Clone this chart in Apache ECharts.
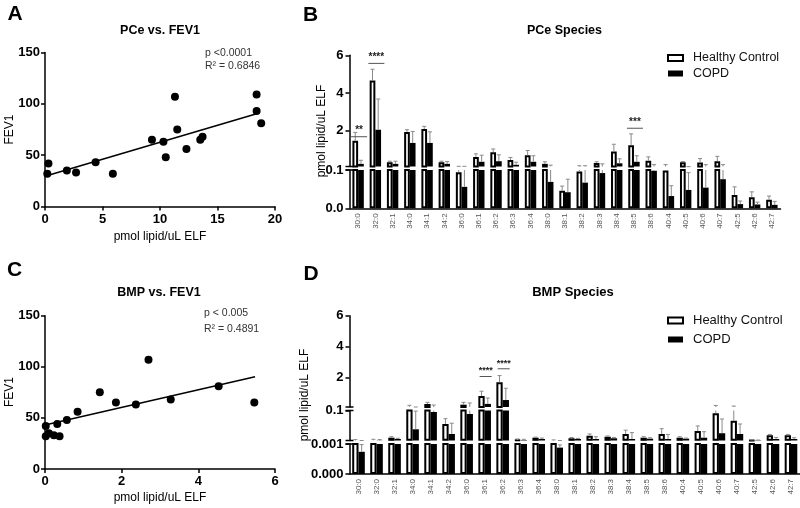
<!DOCTYPE html>
<html><head><meta charset="utf-8">
<script src="https://cdn.jsdelivr.net/npm/echarts@6/dist/echarts.min.js"></script>
<style>html,body{margin:0;padding:0;background:#fff}#c{width:800px;height:508px}</style>
</head><body><div id="c"></div>
<script>
// ---------- data ----------
const pceX = [0.3, 0.2, 1.9, 2.7, 4.4, 5.9, 9.3, 10.3, 10.5, 11.3, 11.5, 12.3, 13.5, 13.7, 18.4, 18.4, 18.8];
const pceY = [42, 32, 35, 33, 43, 32, 65, 63, 48, 107, 75, 56, 65, 68, 109, 93, 81];
const pceFit = [[0, 29.5], [18.4, 90.3]];

const bmpX = [0.02, 0.02, 0.1, 0.23, 0.38, 0.32, 0.57, 0.85, 1.43, 1.85, 2.37, 2.7, 3.28, 4.53, 5.46];
const bmpY = [42, 32, 35, 33, 32, 44, 48, 56, 75, 65, 63, 107, 68, 81, 65];
const bmpFit = [[0, 43], [5.48, 90.3]];

const species = ['30:0','32:0','32:1','34:0','34:1','34:2','36:0','36:1','36:2','36:3','36:4',
  '38:0','38:1','38:2','38:3','38:4','38:5','38:6','40:4','40:5','40:6','40:7','42:5','42:6','42:7'];

// PCe species: mean and top of error bar
const pceHC      = [1.47, 4.66, 0.33, 1.93, 2.09, 0.33, 0.094, 0.61, 0.86, 0.45, 0.70, 0.24, 0.046, 0.096, 0.29, 0.89, 1.23, 0.40, 0.099, 0.33, 0.31, 0.38, 0.035, 0.029, 0.022];
const pceHCUp    = [1.91, 5.26, 0.38, 2.05, 2.23, 0.38, 0.11, 0.77, 1.03, 0.58, 0.95, 0.35, 0.058, 0.14, 0.35, 1.28, 1.83, 0.61, 0.2, 0.36, 0.52, 0.64, 0.056, 0.043, 0.032];
const pceCOPD    = [0.24, 2.05, 0.24, 1.35, 1.35, 0.24, 0.056, 0.35, 0.38, 0.19, 0.35, 0.069, 0.042, 0.067, 0.092, 0.27, 0.35, 0.098, 0.032, 0.048, 0.054, 0.076, 0.011, 0.010, 0.009];
const pceCOPDUp  = [0.43, 3.68, 0.38, 1.96, 1.94, 0.36, 0.11, 0.70, 0.72, 0.33, 0.67, 0.17, 0.076, 0.14, 0.24, 0.51, 0.67, 0.2, 0.059, 0.093, 0.2, 0.2, 0.019, 0.016, 0.018];
const pceSig = [[0, 1.68, '**'], [1, 5.57, '****'], [16, 2.13, '***']];

// BMP species
const bmpHC      = [0.0012, 0.0015, 0.0102, 0.105, 0.295, 0.0555, 0.25, 0.81, 1.70, 0.003, 0.0102, 0.0012, 0.0083, 0.017, 0.0135, 0.0225, 0.0102, 0.0225, 0.0102, 0.032, 0.091, 0.066, 0.0025, 0.0182, 0.0182];
const bmpHCUp    = [0.004, 0.005, 0.0135, 0.21, 0.40, 0.073, 0.40, 1.12, 2.13, 0.006, 0.012, 0.003, 0.011, 0.0225, 0.016, 0.035, 0.0135, 0.04, 0.0135, 0.049, 0.2, 0.16, 0.003, 0.021, 0.021];
const bmpCOPD    = [0.00074, 0.0015, 0.006, 0.038, 0.095, 0.0225, 0.0885, 0.30, 0.55, 0.0025, 0.006, 0.00088, 0.006, 0.006, 0.0083, 0.006, 0.007, 0.006, 0.007, 0.0102, 0.025, 0.0225, 0.002, 0.006, 0.006];
const bmpCOPDUp  = [0.00098, 0.004, 0.0083, 0.098, 0.23, 0.058, 0.36, 0.68, 1.31, 0.005, 0.009, 0.00097, 0.008, 0.0135, 0.011, 0.027, 0.0102, 0.021, 0.009, 0.03, 0.072, 0.0555, 0.0025, 0.011, 0.0102];
const bmpSig = [[7, 2.07, '****'], [8, 2.57, '****']];

// ---------- helpers ----------
const FONT = "'Liberation Sans', Arial, Helvetica, sans-serif";
const BW_B = 5.7, BW_D = 6.3;
const ERR = '#8a8a8a';
const axisLine = {show: true, onZero: false, lineStyle: {color: '#000', width: 1.5}};
const tick = {show: true, length: 4, lineStyle: {color: '#000', width: 1.5}};
const lbl = {color: '#000', fontWeight: 'bold', fontSize: 13, fontFamily: FONT};

function pairs(xs, ys) { return xs.map((x, i) => [x, ys[i]]); }

function bars(name, vals, xi, bw, healthy) {
  return {
    name: name, type: 'bar', xAxisIndex: xi, yAxisIndex: xi, data: vals,
    barWidth: bw, barGap: '0%', clip: true, silent: true,
    itemStyle: healthy ? {color: '#fff', borderColor: '#000', borderWidth: 2} : {color: '#000'}
  };
}

function errs(vals, ups, xi, offset) {
  return {
    type: 'custom', xAxisIndex: xi, yAxisIndex: xi, z: 4, silent: true,
    data: vals.map((v, i) => [i, v, ups[i]]),
    renderItem: function (params, api) {
      const cs = params.coordSys;
      const i = api.value(0);
      const pv = api.coord([i, api.value(1)]);
      const yu = api.coord([i, api.value(2)])[1];
      const x = pv[0] + offset;
      const top = cs.y, bot = cs.y + cs.height;
      const cl = y => Math.max(top, Math.min(bot, y));
      const a = cl(pv[1]), b = cl(yu);
      const ch = [];
      if (a - b > 0.3) ch.push({type: 'line', shape: {x1: x, y1: a, x2: x, y2: b}, style: {stroke: ERR, lineWidth: 1}});
      if (yu >= top - 0.3 && yu <= bot + 0.3) ch.push({type: 'line', shape: {x1: x - 2, y1: yu, x2: x + 2, y2: yu}, style: {stroke: ERR, lineWidth: 1}});
      return {type: 'group', children: ch};
    }
  };
}

function sigs(sig, xi, halfW, fs) {
  return {
    type: 'custom', xAxisIndex: xi, yAxisIndex: xi, z: 5, silent: true,
    data: sig.map(s => [s[0], s[1]]),
    renderItem: function (params, api) {
      const p = api.coord([api.value(0), api.value(1)]);
      return {type: 'group', children: [
        {type: 'line', shape: {x1: p[0] - halfW + 1, y1: p[1], x2: p[0] + halfW + 1, y2: p[1]}, style: {stroke: '#555', lineWidth: 1}},
        {type: 'text', x: p[0] + 1, y: p[1] - 1, style: {text: sig[params.dataIndex][2], textAlign: 'center', textVerticalAlign: 'bottom', font: 'bold ' + fs + 'px ' + FONT, fill: '#222'}}
      ]};
    }
  };
}

function catAxis(gi, show) {
  if (!show) return {gridIndex: gi, type: 'category', data: species, show: false};
  return {gridIndex: gi, type: 'category', data: species, axisLine: axisLine, axisTick: {show: false},
    axisLabel: {rotate: 90, fontSize: 8, color: '#555', margin: 5, interval: 0, fontFamily: FONT}};
}

function valAxis(gi, min, max, vals, fmt, sym) {
  return {gridIndex: gi, type: 'value', min: min, max: max,
    axisLine: Object.assign({}, axisLine, {symbol: sym, symbolSize: [8, 1.5]}),
    axisTick: Object.assign({}, tick, {customValues: vals}),
    axisLabel: Object.assign({}, lbl, {margin: 6, customValues: vals, formatter: fmt}),
    splitLine: {show: false}};
}

function txt(x, y, s, font, opts) {
  return Object.assign({type: 'text', x: x, y: y, silent: true,
    style: {text: s, font: font, fill: '#000', textAlign: 'center', textVerticalAlign: 'middle'}}, opts || {});
}
function ltxt(x, y, s) {
  return {type: 'text', x: x, y: y, silent: true,
    style: {text: s, font: '10.5px ' + FONT, fill: '#333', textAlign: 'left', textVerticalAlign: 'middle'}};
}

const legendItems = [
  {name: 'Healthy Control', itemStyle: {color: '#fff', borderColor: '#000', borderWidth: 2}},
  {name: 'COPD', itemStyle: {color: '#000', borderWidth: 0}}
];

const option = {
  animation: false,
  backgroundColor: '#fff',
  textStyle: {fontFamily: FONT},
  grid: [
    {left: 45, top: 52.5, width: 230, height: 154},
    {left: 45, top: 315.7, width: 230, height: 153.3},
    {left: 349.5, width: 431, top: 170, height: 38.3},
    {left: 349.5, width: 431, top: 55.3, height: 111.2},
    {left: 349.5, width: 451, top: 444, height: 30},
    {left: 349.5, width: 451, top: 410.5, height: 30},
    {left: 349.5, width: 451, top: 315.7, height: 91.3}
  ],
  xAxis: [
    {gridIndex: 0, type: 'value', min: 0, max: 20, interval: 5, axisLine: axisLine, axisTick: tick, axisLabel: Object.assign({}, lbl, {margin: 6}), splitLine: {show: false}},
    {gridIndex: 1, type: 'value', min: 0, max: 6, interval: 2, axisLine: axisLine, axisTick: tick, axisLabel: Object.assign({}, lbl, {margin: 6}), splitLine: {show: false}},
    catAxis(2, true), catAxis(3, false),
    catAxis(4, true), catAxis(5, false), catAxis(6, false)
  ],
  yAxis: [
    {gridIndex: 0, type: 'value', min: 0, max: 150, interval: 50, axisLine: axisLine, axisTick: tick, axisLabel: Object.assign({}, lbl, {margin: 5}), splitLine: {show: false}},
    {gridIndex: 1, type: 'value', min: 0, max: 150, interval: 50, axisLine: axisLine, axisTick: tick, axisLabel: Object.assign({}, lbl, {margin: 5}), splitLine: {show: false}},
    valAxis(2, 0, 0.1, [0, 0.1], v => v.toFixed(1), ['none', 'rect']),
    valAxis(3, 0.1, 6, [2, 4, 6], v => String(v), ['rect', 'none']),
    valAxis(4, 0, 0.001, [0, 0.001], v => v.toFixed(3), ['none', 'rect']),
    valAxis(5, 0.001, 0.1, [0.1], v => String(v), ['rect', 'rect']),
    valAxis(6, 0.1, 6, [2, 4, 6], v => String(v), ['rect', 'none'])
  ],
  legend: [
    {left: 662, top: 46.5, orient: 'vertical', icon: 'rect', itemWidth: 15, itemHeight: 6, itemGap: 2.5, selectedMode: false,
      data: legendItems, textStyle: {fontSize: 12.5, color: '#111', fontFamily: FONT, padding: [0, 0, 0, 5]}},
    {left: 662, top: 309, orient: 'vertical', icon: 'rect', itemWidth: 15, itemHeight: 6, itemGap: 6, selectedMode: false,
      data: legendItems, textStyle: {fontSize: 13, color: '#111', fontFamily: FONT, padding: [0, 0, 0, 5]}}
  ],
  series: [
    {type: 'scatter', xAxisIndex: 0, yAxisIndex: 0, data: pairs(pceX, pceY), symbolSize: 8, itemStyle: {color: '#000', opacity: 1}, silent: true, z: 3},
    {type: 'line', xAxisIndex: 0, yAxisIndex: 0, data: pceFit, showSymbol: false, lineStyle: {color: '#000', width: 1.5}, silent: true},
    {type: 'scatter', xAxisIndex: 1, yAxisIndex: 1, data: pairs(bmpX, bmpY), symbolSize: 8, itemStyle: {color: '#000', opacity: 1}, silent: true, z: 3},
    {type: 'line', xAxisIndex: 1, yAxisIndex: 1, data: bmpFit, showSymbol: false, lineStyle: {color: '#000', width: 1.5}, silent: true},

    bars('Healthy Control', pceHC, 2, BW_B, true), bars('COPD', pceCOPD, 2, BW_B, false),
    errs(pceHC, pceHCUp, 2, -BW_B / 2), errs(pceCOPD, pceCOPDUp, 2, BW_B / 2),
    bars('Healthy Control', pceHC, 3, BW_B, true), bars('COPD', pceCOPD, 3, BW_B, false),
    errs(pceHC, pceHCUp, 3, -BW_B / 2), errs(pceCOPD, pceCOPDUp, 3, BW_B / 2),
    sigs(pceSig, 3, 8, 10),

    bars('Healthy Control', bmpHC, 4, BW_D, true), bars('COPD', bmpCOPD, 4, BW_D, false),
    errs(bmpHC, bmpHCUp, 4, -BW_D / 2), errs(bmpCOPD, bmpCOPDUp, 4, BW_D / 2),
    bars('Healthy Control', bmpHC, 5, BW_D, true), bars('COPD', bmpCOPD, 5, BW_D, false),
    errs(bmpHC, bmpHCUp, 5, -BW_D / 2), errs(bmpCOPD, bmpCOPDUp, 5, BW_D / 2),
    bars('Healthy Control', bmpHC, 6, BW_D, true), bars('COPD', bmpCOPD, 6, BW_D, false),
    errs(bmpHC, bmpHCUp, 6, -BW_D / 2), errs(bmpCOPD, bmpCOPDUp, 6, BW_D / 2),
    sigs(bmpSig, 6, 6, 9)
  ],
  graphic: [
    txt(15, 14, 'A', 'bold 21px ' + FONT),
    txt(310.5, 15.5, 'B', 'bold 21px ' + FONT),
    txt(14.5, 270, 'C', 'bold 21px ' + FONT),
    txt(311, 274, 'D', 'bold 21px ' + FONT),
    txt(160, 30.5, 'PCe vs. FEV1', 'bold 12.5px ' + FONT),
    txt(159, 293, 'BMP vs. FEV1', 'bold 12.5px ' + FONT),
    txt(564.5, 31, 'PCe Species', 'bold 12.5px ' + FONT),
    txt(573, 292, 'BMP Species', 'bold 13px ' + FONT),
    txt(160, 237, 'pmol lipid/uL ELF', '12px ' + FONT),
    txt(160, 498, 'pmol lipid/uL ELF', '12px ' + FONT),
    txt(10, 129.5, 'FEV1', '12px ' + FONT, {rotation: Math.PI / 2}),
    txt(10, 392, 'FEV1', '12px ' + FONT, {rotation: Math.PI / 2}),
    txt(321.7, 131, 'pmol lipid/uL ELF', '12px ' + FONT, {rotation: Math.PI / 2}),
    txt(305, 395, 'pmol lipid/uL ELF', '12px ' + FONT, {rotation: Math.PI / 2}),
    ltxt(205, 53, 'p <0.0001'),
    ltxt(205, 66, 'R² = 0.6846'),
    ltxt(204, 313.5, 'p < 0.005'),
    ltxt(204, 329, 'R² = 0.4891')
  ]
};

const chart = echarts.init(document.getElementById('c'), null, {renderer: 'canvas', width: 800, height: 508});
chart.setOption(option);
</script>
</body></html>
